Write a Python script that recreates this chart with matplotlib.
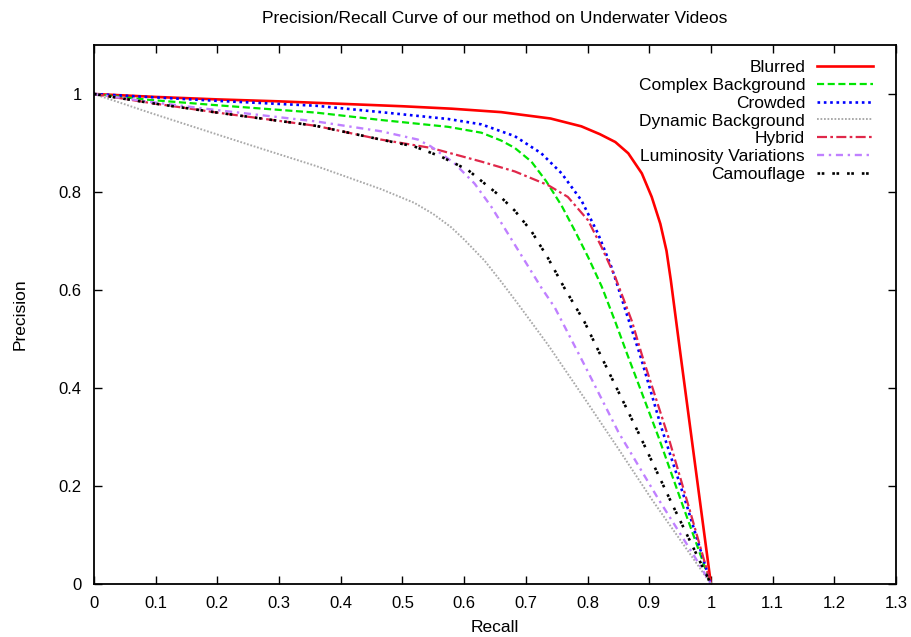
import matplotlib
matplotlib.use("Agg")
import matplotlib.pyplot as plt

plt.rcParams['font.family'] = ['Liberation Sans', 'DejaVu Sans']

title = "Precision/Recall Curve of our method on Underwater Videos"
x_label = "Recall"
y_label = "Precision"

labels = ["Blurred", "Complex Background", "Crowded", "Dynamic Background",
          "Hybrid", "Luminosity Variations", "Camouflage"]

blurred_r = [0, 0.1, 0.2, 0.3, 0.4, 0.5, 0.58, 0.66, 0.74, 0.79, 0.82, 0.845, 0.866, 0.888, 0.904, 0.918, 0.928, 0.935, 0.95, 1.0]
blurred_p = [1, 0.994, 0.989, 0.985, 0.980, 0.975, 0.970, 0.963, 0.950, 0.934, 0.918, 0.902, 0.879, 0.838, 0.790, 0.735, 0.680, 0.620, 0.475, 0.0]

complex_r = [0, 0.09, 0.2, 0.36, 0.465, 0.574, 0.628, 0.66, 0.682, 0.709, 0.733, 0.758, 0.779, 0.801, 0.823, 0.845, 0.864, 0.915, 0.953, 1.0]
complex_p = [1, 0.988, 0.977, 0.962, 0.947, 0.933, 0.921, 0.905, 0.890, 0.862, 0.822, 0.772, 0.722, 0.667, 0.607, 0.535, 0.470, 0.30, 0.165, 0.0]

crowded_r = [0, 0.1, 0.2, 0.36, 0.465, 0.574, 0.628, 0.682, 0.725, 0.758, 0.79, 0.817, 0.839, 0.855, 0.872, 0.885, 0.92, 0.958, 1.0]
crowded_p = [1, 0.993, 0.986, 0.976, 0.963, 0.949, 0.938, 0.914, 0.879, 0.838, 0.783, 0.715, 0.646, 0.584, 0.518, 0.468, 0.318, 0.172, 0.0]

dynamic_r = [0, 0.05, 0.09, 0.25, 0.36, 0.465, 0.519, 0.55, 0.579, 0.6, 0.633, 0.66, 0.687, 0.736, 0.795, 0.85, 0.904, 0.958, 1.0]
dynamic_p = [1, 0.979, 0.962, 0.897, 0.853, 0.806, 0.778, 0.755, 0.728, 0.703, 0.660, 0.617, 0.572, 0.488, 0.379, 0.276, 0.173, 0.076, 0.0]

hybrid_r = [0, 0.09, 0.2, 0.36, 0.465, 0.546, 0.628, 0.682, 0.736, 0.768, 0.801, 0.823, 0.845, 0.872, 0.888, 0.931, 0.964, 1.0]
hybrid_p = [1, 0.982, 0.962, 0.935, 0.907, 0.890, 0.862, 0.842, 0.814, 0.790, 0.742, 0.687, 0.626, 0.536, 0.468, 0.30, 0.158, 0.0]

lumin_r = [0, 0.09, 0.2, 0.36, 0.465, 0.525, 0.546, 0.584, 0.617, 0.644, 0.671, 0.698, 0.725, 0.747, 0.795, 0.85, 0.915, 0.974, 1.0]
lumin_p = [1, 0.984, 0.967, 0.944, 0.924, 0.907, 0.893, 0.859, 0.817, 0.770, 0.715, 0.660, 0.605, 0.564, 0.447, 0.31, 0.173, 0.055, 0.0]

camo_r = [0, 0.09, 0.2, 0.36, 0.465, 0.519, 0.563, 0.606, 0.655, 0.682, 0.709, 0.736, 0.763, 0.795, 0.82, 0.882, 0.936, 1.0]
camo_p = [1, 0.982, 0.962, 0.935, 0.907, 0.893, 0.872, 0.845, 0.795, 0.762, 0.720, 0.665, 0.603, 0.535, 0.470, 0.31, 0.166, 0.0]

x_ticks = [0, 0.1, 0.2, 0.3, 0.4, 0.5, 0.6, 0.7, 0.8, 0.9, 1, 1.1, 1.2, 1.3]
x_tick_labels = ["0", "0.1", "0.2", "0.3", "0.4", "0.5", "0.6", "0.7", "0.8", "0.9", "1", "1.1", "1.2", "1.3"]
y_ticks = [0, 0.2, 0.4, 0.6, 0.8, 1.0]
y_tick_labels = ["0", "0.2", "0.4", "0.6", "0.8", "1"]

series = [
    (blurred_r, blurred_p, dict(color="#ff0000", lw=1.9, ls="-")),
    (complex_r, complex_p, dict(color="#00e600", lw=1.6, dashes=(3.2, 1.6))),
    (crowded_r, crowded_p, dict(color="#0000ff", lw=1.9, dashes=(1.0, 1.4))),
    (dynamic_r, dynamic_p, dict(color="#aaaaaa", lw=1.4, dashes=(0.9, 0.9))),
    (hybrid_r, hybrid_p, dict(color="#e0284a", lw=1.6, dashes=(4.5, 1.5, 1.2, 1.5))),
    (lumin_r, lumin_p, dict(color="#c080ff", lw=1.7, dashes=(3.0, 2.0, 1.0, 2.0))),
    (camo_r, camo_p, dict(color="#000000", lw=1.9, dashes=(1.0, 0.6, 1.0, 3.0))),
]

fig = plt.figure(figsize=(9.11, 6.37), dpi=100)
ax = fig.add_axes([94/911, 53/637, (896-94)/911, (584-45)/637])

for (r, p, style), lab in zip(series, labels):
    ax.plot(r, p, label=lab, solid_joinstyle='round', **style)

ax.set_xlim(0, 1.3)
ax.set_ylim(0, 1.1)
ax.set_xticks(x_ticks)
ax.set_xticklabels(x_tick_labels)
ax.set_yticks(y_ticks)
ax.set_yticklabels(y_tick_labels)
ax.tick_params(direction='in', length=6, width=1.0, top=True, right=True,
               labelsize=12, pad=9)
for s in ax.spines.values():
    s.set_linewidth(1.3)

ax.set_title(title, fontsize=12.5, pad=16)
ax.set_xlabel(x_label, fontsize=12.5, labelpad=6)
ax.set_ylabel(y_label, fontsize=12.5, labelpad=22)

leg = ax.legend(loc='upper right', bbox_to_anchor=(0.971, 0.972), frameon=False,
                markerfirst=False, fontsize=12.5, handlelength=3.2,
                handletextpad=0.7, labelspacing=0.15, borderaxespad=0, borderpad=0)

fig.savefig("out.png", dpi=100)
